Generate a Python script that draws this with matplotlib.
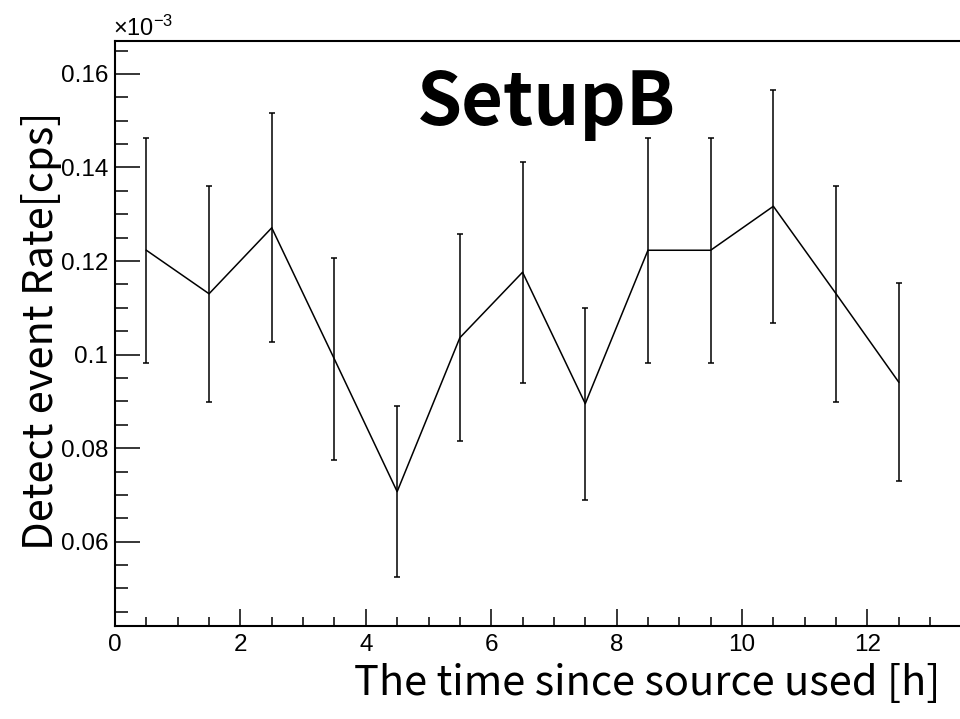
import matplotlib
matplotlib.use("Agg")
import matplotlib.pyplot as plt
from matplotlib.ticker import MultipleLocator, FuncFormatter
import numpy as np

# ---- data ----
time_h = [0.5, 1.5, 2.5, 3.5, 4.5, 5.5, 6.5, 7.5, 8.5, 9.5, 10.5, 11.5, 12.5]
rate_cps = [1.223e-4, 1.130e-4, 1.271e-4, 0.990e-4, 0.707e-4, 1.036e-4, 1.176e-4,
            0.895e-4, 1.223e-4, 1.223e-4, 1.317e-4, 1.130e-4, 0.941e-4]
rate_err = [0.240e-4, 0.231e-4, 0.245e-4, 0.216e-4, 0.182e-4, 0.221e-4, 0.236e-4,
            0.205e-4, 0.240e-4, 0.240e-4, 0.249e-4, 0.231e-4, 0.211e-4]
title = "SetupB"
xlabel = "The time since source used [h]"
ylabel = "Detect event Rate[cps]"

scale = 1e3  # axis shown in units of 10^-3

plt.rcParams['mathtext.fontset'] = 'custom'
plt.rcParams['mathtext.rm'] = 'Liberation Sans'
plt.rcParams['mathtext.it'] = 'Liberation Sans'

W, H = 960, 719
fig = plt.figure(figsize=(9.6, 7.19), dpi=100)
ax = fig.add_axes([115 / W, (H - 626) / H, (974 - 115) / W, (626 - 40.7) / H])

y = np.array(rate_cps) * scale
e = np.array(rate_err) * scale
ax.errorbar(time_h, y, yerr=e, color='black', lw=1.1, elinewidth=1.1,
            capsize=2.2, capthick=1.1, marker=None)

ax.set_xlim(0, 13.7)
ax.set_ylim(0.04197, 0.1671)

for s in ['left', 'bottom', 'top']:
    ax.spines[s].set_linewidth(1.5)
ax.spines['right'].set_visible(False)

ax.xaxis.set_major_locator(MultipleLocator(2))
ax.xaxis.set_minor_locator(MultipleLocator(0.5))
ax.yaxis.set_major_locator(MultipleLocator(0.02))
ax.yaxis.set_minor_locator(MultipleLocator(0.005))
ax.yaxis.set_major_formatter(FuncFormatter(lambda v, p: "0.1" if abs(v - 0.1) < 1e-9 else f"{v:.2f}"))

ax.tick_params(axis='x', which='major', direction='in', length=12.5, width=1.1, pad=6,
               labelsize=17.5, top=False)
ax.tick_params(axis='x', which='minor', direction='in', length=6.5, width=1.1, top=False)
ax.tick_params(axis='y', which='major', direction='in', length=18, width=1.1, pad=5,
               labelsize=17.5, right=False)
ax.tick_params(axis='y', which='minor', direction='in', length=9, width=1.1, right=False)
for lab in ax.get_xticklabels() + ax.get_yticklabels():
    lab.set_fontfamily('Liberation Sans')

# exponent label
fig.text(113 / W, (H - 36) / H, r"$\times$10$^{-3}$", fontsize=17,
         family='Liberation Sans', ha='left', va='baseline')

# title
fig.text(546 / W, (H - 125) / H, title, fontsize=52, fontweight='bold',
         family=['Noto Sans CJK JP', 'DejaVu Sans'], ha='center', va='baseline')

# axis titles
fig.text(940 / W, (H - 695) / H, xlabel, fontsize=30, fontweight='normal',
         family=['Noto Sans CJK JP', 'DejaVu Sans'], ha='right', va='baseline')
fig.text(53 / W, (H - 331) / H, ylabel, fontsize=30, rotation=90, rotation_mode='anchor',
         fontweight='normal',
         family=['Noto Sans CJK JP', 'DejaVu Sans'], ha='center', va='baseline')

fig.savefig("out.png", dpi=100)
